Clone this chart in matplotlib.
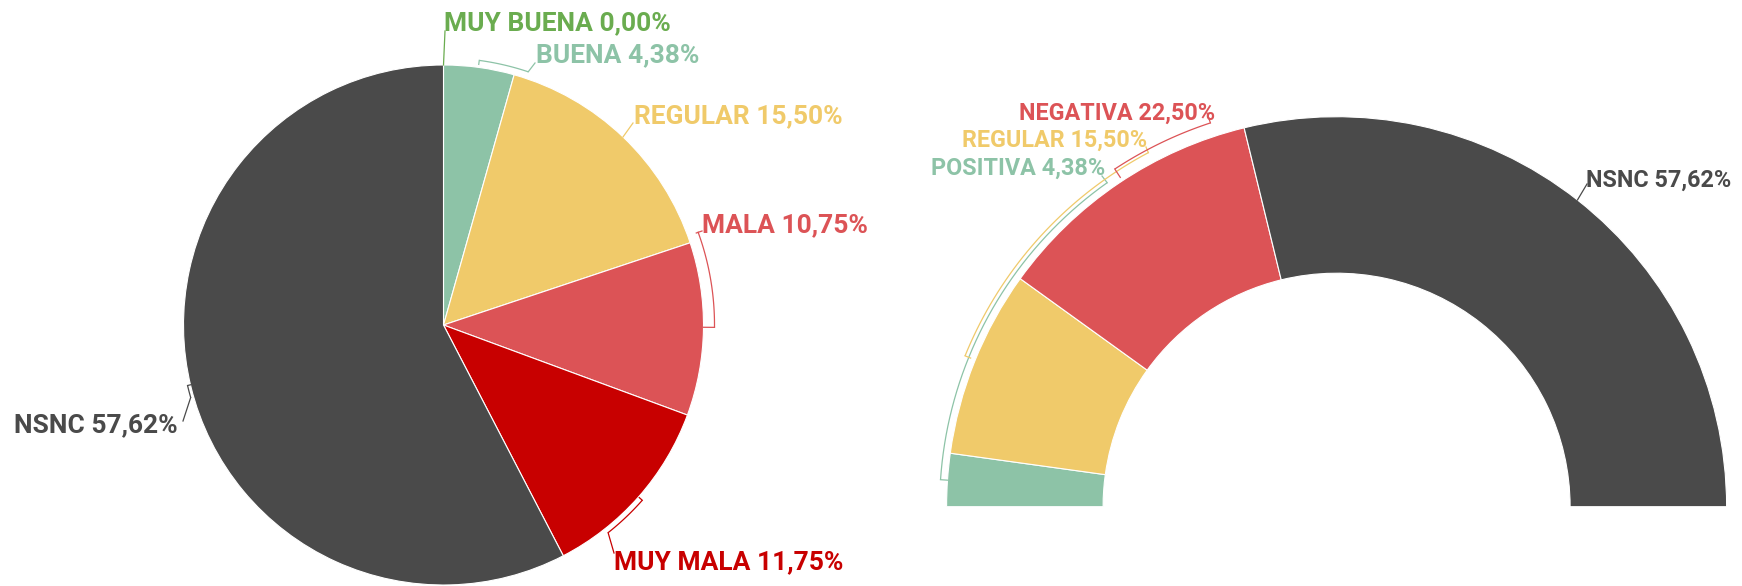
import matplotlib
matplotlib.use("Agg")
import matplotlib.pyplot as plt
import numpy as np

plt.rcParams['font.family'] = ['Roboto', 'DejaVu Sans']

# datos
left_labels = ['MUY BUENA', 'BUENA', 'REGULAR', 'MALA', 'MUY MALA', 'NSNC']
left_values = [0.00, 4.38, 15.50, 10.75, 11.75, 57.62]
left_colors = ['#6aac4f', '#8dc3a7', '#f0ca6a', '#dc5356', '#c80000', '#4a4a4a']

right_labels = ['POSITIVA', 'REGULAR', 'NEGATIVA', 'NSNC']
right_values = [4.38, 15.50, 22.50, 57.62]
right_colors = ['#8dc3a7', '#f0ca6a', '#dc5356', '#4a4a4a']

W, H = 1742, 586


def Y(y):
    # coordenadas de imagen -> datos
    return H - y


def pt(c, r, ang):
    a = np.radians(ang)
    return c[0] + r * np.cos(a), c[1] + r * np.sin(a)


def fmt(v):
    return f"{v:.2f}".replace('.', ',') + '%'


def mid_angles(values, start, span):
    tot = sum(values) if span == 360 else 100.0
    out, acc = [], 0.0
    for v in values:
        a1 = start - acc / tot * span
        acc += v
        a2 = start - acc / tot * span
        out.append((a1 + a2) / 2)
    return out


def bracket(ax, c, r, a1, a2, tick1, tick2, color):
    th = np.linspace(a1, a2, 40)
    xs, ys = pt(c, r, th)
    ax.plot(xs, ys, color=color, lw=0.9, solid_capstyle='butt')
    for a, t in ((a1, tick1), (a2, tick2)):
        if t:
            p0 = pt(c, r, a)
            p1 = pt(c, r - t, a)
            ax.plot([p0[0], p1[0]], [p0[1], p1[1]], color=color, lw=0.9)


def leader(ax, p0, p1, color):
    ax.plot([p0[0], p1[0]], [p0[1], p1[1]], color=color, lw=0.9)


fig = plt.figure(figsize=(W / 100, H / 100), dpi=100)
ax = fig.add_axes([0, 0, 1, 1])

# pastel izquierdo
cL = (443.5, Y(325))
rL = 260
ax.pie(left_values, colors=left_colors, startangle=90, counterclock=False,
       center=cL, radius=rL,
       wedgeprops=dict(edgecolor='white', linewidth=0.8))

# semidona derecha
cR = (1336.6, Y(506.7))
rR = 390
ax.pie([v / 200 for v in right_values], colors=right_colors, startangle=180,
       counterclock=False, normalize=False, center=cR, radius=rR,
       wedgeprops=dict(width=rR - 233.5, edgecolor='white', linewidth=0.8))

tkwL = dict(fontsize=19, fontweight='bold', ha='left', va='baseline')
tkwR = dict(fontsize=16.8, fontweight='bold', ha='left', va='baseline')

# etiquetas izquierda
midL = mid_angles(left_values, 90, 360)
posL = {
    'MUY BUENA': (444, 30),
    'BUENA': (536, 62),
    'REGULAR': (634, 123),
    'MALA': (702, 232),
    'MUY MALA': (614, 569),
    'NSNC': (14, 432),
}
for lab, v, col in zip(left_labels, left_values, left_colors):
    x, y = posL[lab]
    ax.text(x, Y(y), f"{lab} {fmt(v)}", color=col, **tkwL)

# lineas izquierda
leader(ax, pt(cL, rL, midL[0]), (445, Y(31)), left_colors[0])
bracket(ax, cL, 267, 82.3, 71.5, 4, 0, left_colors[1])
leader(ax, pt(cL, 267, 71.5), (535, Y(63)), left_colors[1])
leader(ax, pt(cL, rL, midL[2]), (633, Y(123)), left_colors[2])
bracket(ax, cL, 271, 20.0, -0.5, 2, 11, left_colors[3])
leader(ax, pt(cL, 271, 20.0), (702, Y(231)), left_colors[3])
bracket(ax, cL, 265, -41.4, -51.6, 4, 0, left_colors[4])
leader(ax, pt(cL, 265, -51.6), (614, Y(553)), left_colors[4])
bracket(ax, cL, 263, 193.3, 196.0, 3, 0, left_colors[5])
leader(ax, pt(cL, 263, 196.0), (183, Y(421)), left_colors[5])

# etiquetas derecha
midR = mid_angles(right_values, 180, 180)
posR = {
    'POSITIVA': (931, 175),
    'REGULAR': (962, 147),
    'NEGATIVA': (1019, 120),
    'NSNC': (1586, 187),
}
for lab, v, col in zip(right_labels, right_values, right_colors):
    x, y = posR[lab]
    ax.text(x, Y(y), f"{lab} {fmt(v)}", color=col, **tkwR)

# lineas derecha
bracket(ax, cR, 397, 125.3, 176.1, 0, 7, right_colors[0])
leader(ax, pt(cR, 397, 125.3), (1102, Y(176)), right_colors[0])
bracket(ax, cR, 401, 118.0, 157.9, 0, 6, right_colors[1])
leader(ax, pt(cR, 401, 118.0), (1146, Y(147)), right_colors[1])
bracket(ax, cR, 404, 108.2, 123.3, 0, 10, right_colors[2])
leader(ax, pt(cR, 404, 108.2), (1207, Y(113)), right_colors[2])
leader(ax, pt(cR, rR, midR[3]), (1587, Y(184)), right_colors[3])

ax.set_xlim(0, W)
ax.set_ylim(0, H)
ax.set_aspect('auto')
ax.axis('off')

fig.savefig('out.png', dpi=100, facecolor='white')
